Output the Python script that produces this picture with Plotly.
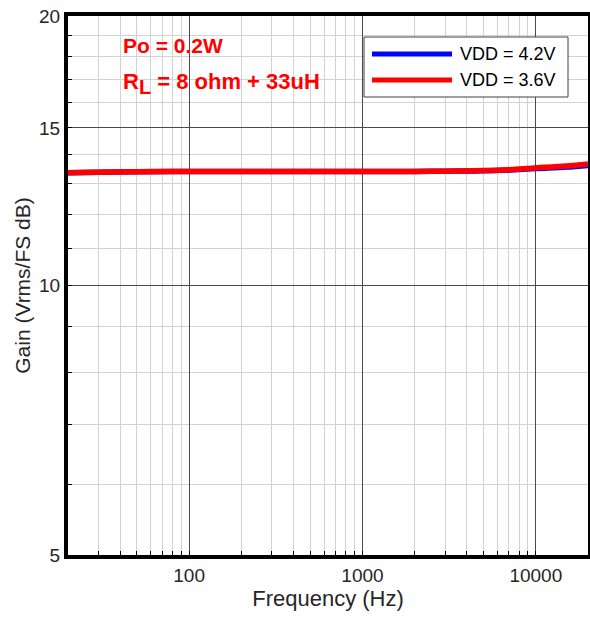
import plotly.graph_objects as go

freq_hz = [20, 30, 50, 100, 200, 500, 1000, 2000, 3000, 5000, 7000, 10000, 15000, 20000]
gain_vdd42 = [13.36, 13.38, 13.40, 13.41, 13.41, 13.41, 13.41, 13.41, 13.42, 13.43, 13.46, 13.51, 13.56, 13.62]
gain_vdd36 = [13.36, 13.38, 13.40, 13.41, 13.41, 13.41, 13.41, 13.41, 13.42, 13.44, 13.47, 13.53, 13.60, 13.67]

series_names = ["VDD = 4.2V", "VDD = 3.6V"]
series_colors = ["#0000ff", "#ff0000"]

x_major = [100, 1000, 10000]
x_major_labels = ["100", "1000", "10000"]
x_minor = [30, 40, 50, 60, 70, 80, 90, 200, 300, 400, 500, 600, 700, 800, 900,
           2000, 3000, 4000, 5000, 6000, 7000, 8000, 9000]
y_major = [5, 10, 15, 20]
y_major_labels = ["5", "10", "15", "20"]
y_minor = [6, 7, 8, 9, 11, 12, 13, 14, 16, 17, 18, 19]

FONT = "Liberation Sans, Arial, sans-serif"

fig = go.Figure()
for name, vals, col in zip(series_names, [gain_vdd42, gain_vdd36], series_colors):
    fig.add_trace(go.Scatter(x=freq_hz, y=vals, mode="lines", name=name,
                             line=dict(color=col, width=5.5, shape="spline"),
                             showlegend=False))

axis_common = dict(
    showline=True, linewidth=4, linecolor="black", mirror=True,
    ticks="inside", ticklen=4, tickcolor="black", tickwidth=1,
    showgrid=True, gridcolor="#4a4a4a", gridwidth=1,
    tickfont=dict(family=FONT, size=19, color="#262626"),
    zeroline=False, automargin=False,
)

fig.update_xaxes(type="log", range=[1.30103, 4.30103],
                 tickvals=x_major, ticktext=x_major_labels,
                 minor=dict(tickvals=x_minor, showgrid=True, gridcolor="#d2d2d2", gridwidth=1,
                            ticks="inside", ticklen=4, tickcolor="black"),
                 title=dict(text="Frequency (Hz)", font=dict(family=FONT, size=22, color="#262626"), standoff=6),
                 **axis_common)
fig.update_yaxes(type="log", range=[0.69897, 1.30103],
                 tickvals=y_major, ticktext=y_major_labels,
                 minor=dict(tickvals=y_minor, showgrid=True, gridcolor="#d2d2d2", gridwidth=1,
                            ticks="inside", ticklen=4, tickcolor="black"),
                 title=dict(text="Gain (Vrms/FS dB)", font=dict(family=FONT, size=21, color="#262626"), standoff=4),
                 **axis_common)

# custom legend (paper coordinates)
W, H = 590, 619
L, R, T, B = 68, 2, 16, 64
pw, ph = W - L - R, H - T - B
def px(x): return (x - L) / pw
def py(y): return 1 - (y - T) / ph

shapes = [dict(type="rect", xref="paper", yref="paper", x0=px(364), x1=px(568), y0=py(97), y1=py(37),
               line=dict(color="#404040", width=1), fillcolor="white", layer="above")]
annotations = []
for i, (name, col) in enumerate(zip(series_names, series_colors)):
    yy = 54 + i * 26
    shapes.append(dict(type="line", xref="paper", yref="paper", x0=px(372), x1=px(452), y0=py(yy), y1=py(yy),
                       line=dict(color=col, width=5), layer="above"))
    annotations.append(dict(xref="paper", yref="paper", x=px(458), y=py(yy), text=name, showarrow=False,
                            xanchor="left", yanchor="middle",
                            font=dict(family=FONT, size=18, color="black")))

annotations.append(dict(xref="paper", yref="paper", x=px(121), y=py(46), text="<b>Po = 0.2W</b>",
                        showarrow=False, xanchor="left", yanchor="middle",
                        font=dict(family=FONT, size=21, color="#ff0000")))
annotations.append(dict(xref="paper", yref="paper", x=px(121), y=py(84),
                        text="<b>R<sub><span style='font-size:20px'>L</span></sub> = 8 ohm + 33uH</b>",
                        showarrow=False, xanchor="left", yanchor="middle",
                        font=dict(family=FONT, size=22, color="#ff0000")))

fig.update_layout(width=W, height=H, margin=dict(l=L, r=R, t=T, b=B),
                  paper_bgcolor="white", plot_bgcolor="white",
                  shapes=shapes, annotations=annotations, showlegend=False)

fig.write_html("out.html", config={"displayModeBar": False},
               post_script="document.body.style.margin='0';document.body.style.overflow='hidden';")
